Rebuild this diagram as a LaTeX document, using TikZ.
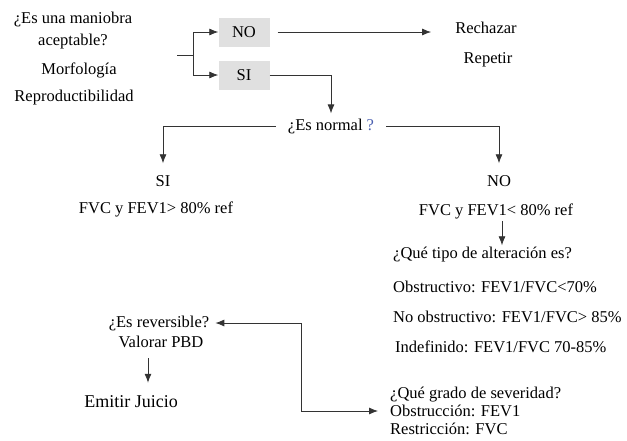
\documentclass[tikz,border=0pt]{standalone}
\usepackage{fontspec}
\setmainfont{Liberation Serif}
\usepackage{xcolor}
\usetikzlibrary{arrows.meta,calc}
\definecolor{boxgray}{HTML}{E0E0E0}
\definecolor{qblue}{HTML}{4A5FB0}

\begin{document}
\begin{tikzpicture}[x=1pt,y=-1pt,>={Latex[length=9pt,width=7pt]},
    every node/.style={font=\fontsize{16.5}{20}\selectfont,inner sep=2pt},
    answer/.style={fill=boxgray,minimum width=51pt,minimum height=29pt},
    link/.style={draw=black!80,line width=0.8pt},
    item/.style={anchor=west}]
    \useasboundingbox (0,0) rectangle (627,440);
    % first question
    \node[align=center,font=\fontsize{16.5}{22}\selectfont] (maniobra) at (73,31) {¿Es una maniobra\\aceptable?};
    \node (morf) at (79,70) {Morfología};
    \node (repro) at (74,98) {Reproductibilidad};
    \coordinate (stub) at (177,55);
    \coordinate (fork) at (193,55);
    \node[answer] (no) at (244,32) {NO};
    \node[answer] (si) at (244,75) {SI};
    \node (rechazar) at (486,28) {Rechazar};
    \node (repetir) at (488,60) {Repetir};
    \draw[link] (stub) -- (fork);
    \draw[link,->] (fork) |- (no.west);
    \draw[link,->] (fork) |- (si.west);
    \draw[link,->,shorten <=8pt,shorten >=22pt] (no.east) -- (no.east -| rechazar.west);
    % normal or not
    \node[inner xsep=12pt] (normal) at (331,126) {¿Es normal {\color{qblue}?}};
    \draw[link,->,shorten >=3pt] (si.east) -| (normal.north);
    \node (normsi) at (163,181) {SI};
    \node (fvcsi) at (156,209) {FVC y FEV1> 80\% ref};
    \node (normno) at (499,181) {NO};
    \node (fvcno) at (496,211) {FVC y FEV1< 80\% ref};
    \draw[link,->,shorten >=10pt] (normal.west) -| (normsi.north);
    \draw[link,->,shorten >=10pt] (normal.east) -| (normno.north);
    % type of alteration
    \node[item] (tipo) at (391,255) {¿Qué tipo de alteración es?};
    \node[item] (obst) at (391,287) {Obstructivo: FEV1/FVC<70\%};
    \node[item] (noobst) at (391,317) {No obstructivo: FEV1/FVC> 85\%};
    \node[item] (indef) at (393,347) {Indefinido: FEV1/FVC 70-85\%};
    \draw[link,->] ([xshift=6pt]fvcno.south) -- ([xshift=6pt]fvcno.south |- tipo.north);
    \node[item,align=left,inner xsep=12pt,font=\fontsize{16.5}{18}\selectfont] (sev) at (378,411)
        {¿Qué grado de severidad?\\Obstrucción: FEV1\\Restricción: FVC};
    % reversibility
    \node[inner xsep=6pt] (rev) at (159,323) {¿Es reversible?};
    \node (valorar) at (161,342) {Valorar PBD};
    \node[font=\fontsize{18}{20}\selectfont] (emitir) at (131,402) {Emitir Juicio};
    \draw[link,<->] (rev.east) -| ($(rev.east)!0.53!(sev.west)$) |- (sev.west);
    \draw[link,->,shorten <=8pt,shorten >=11pt] ([xshift=-13pt]valorar.south) -- ([xshift=-13pt]valorar.south |- emitir.north);
\end{tikzpicture}
\end{document}
